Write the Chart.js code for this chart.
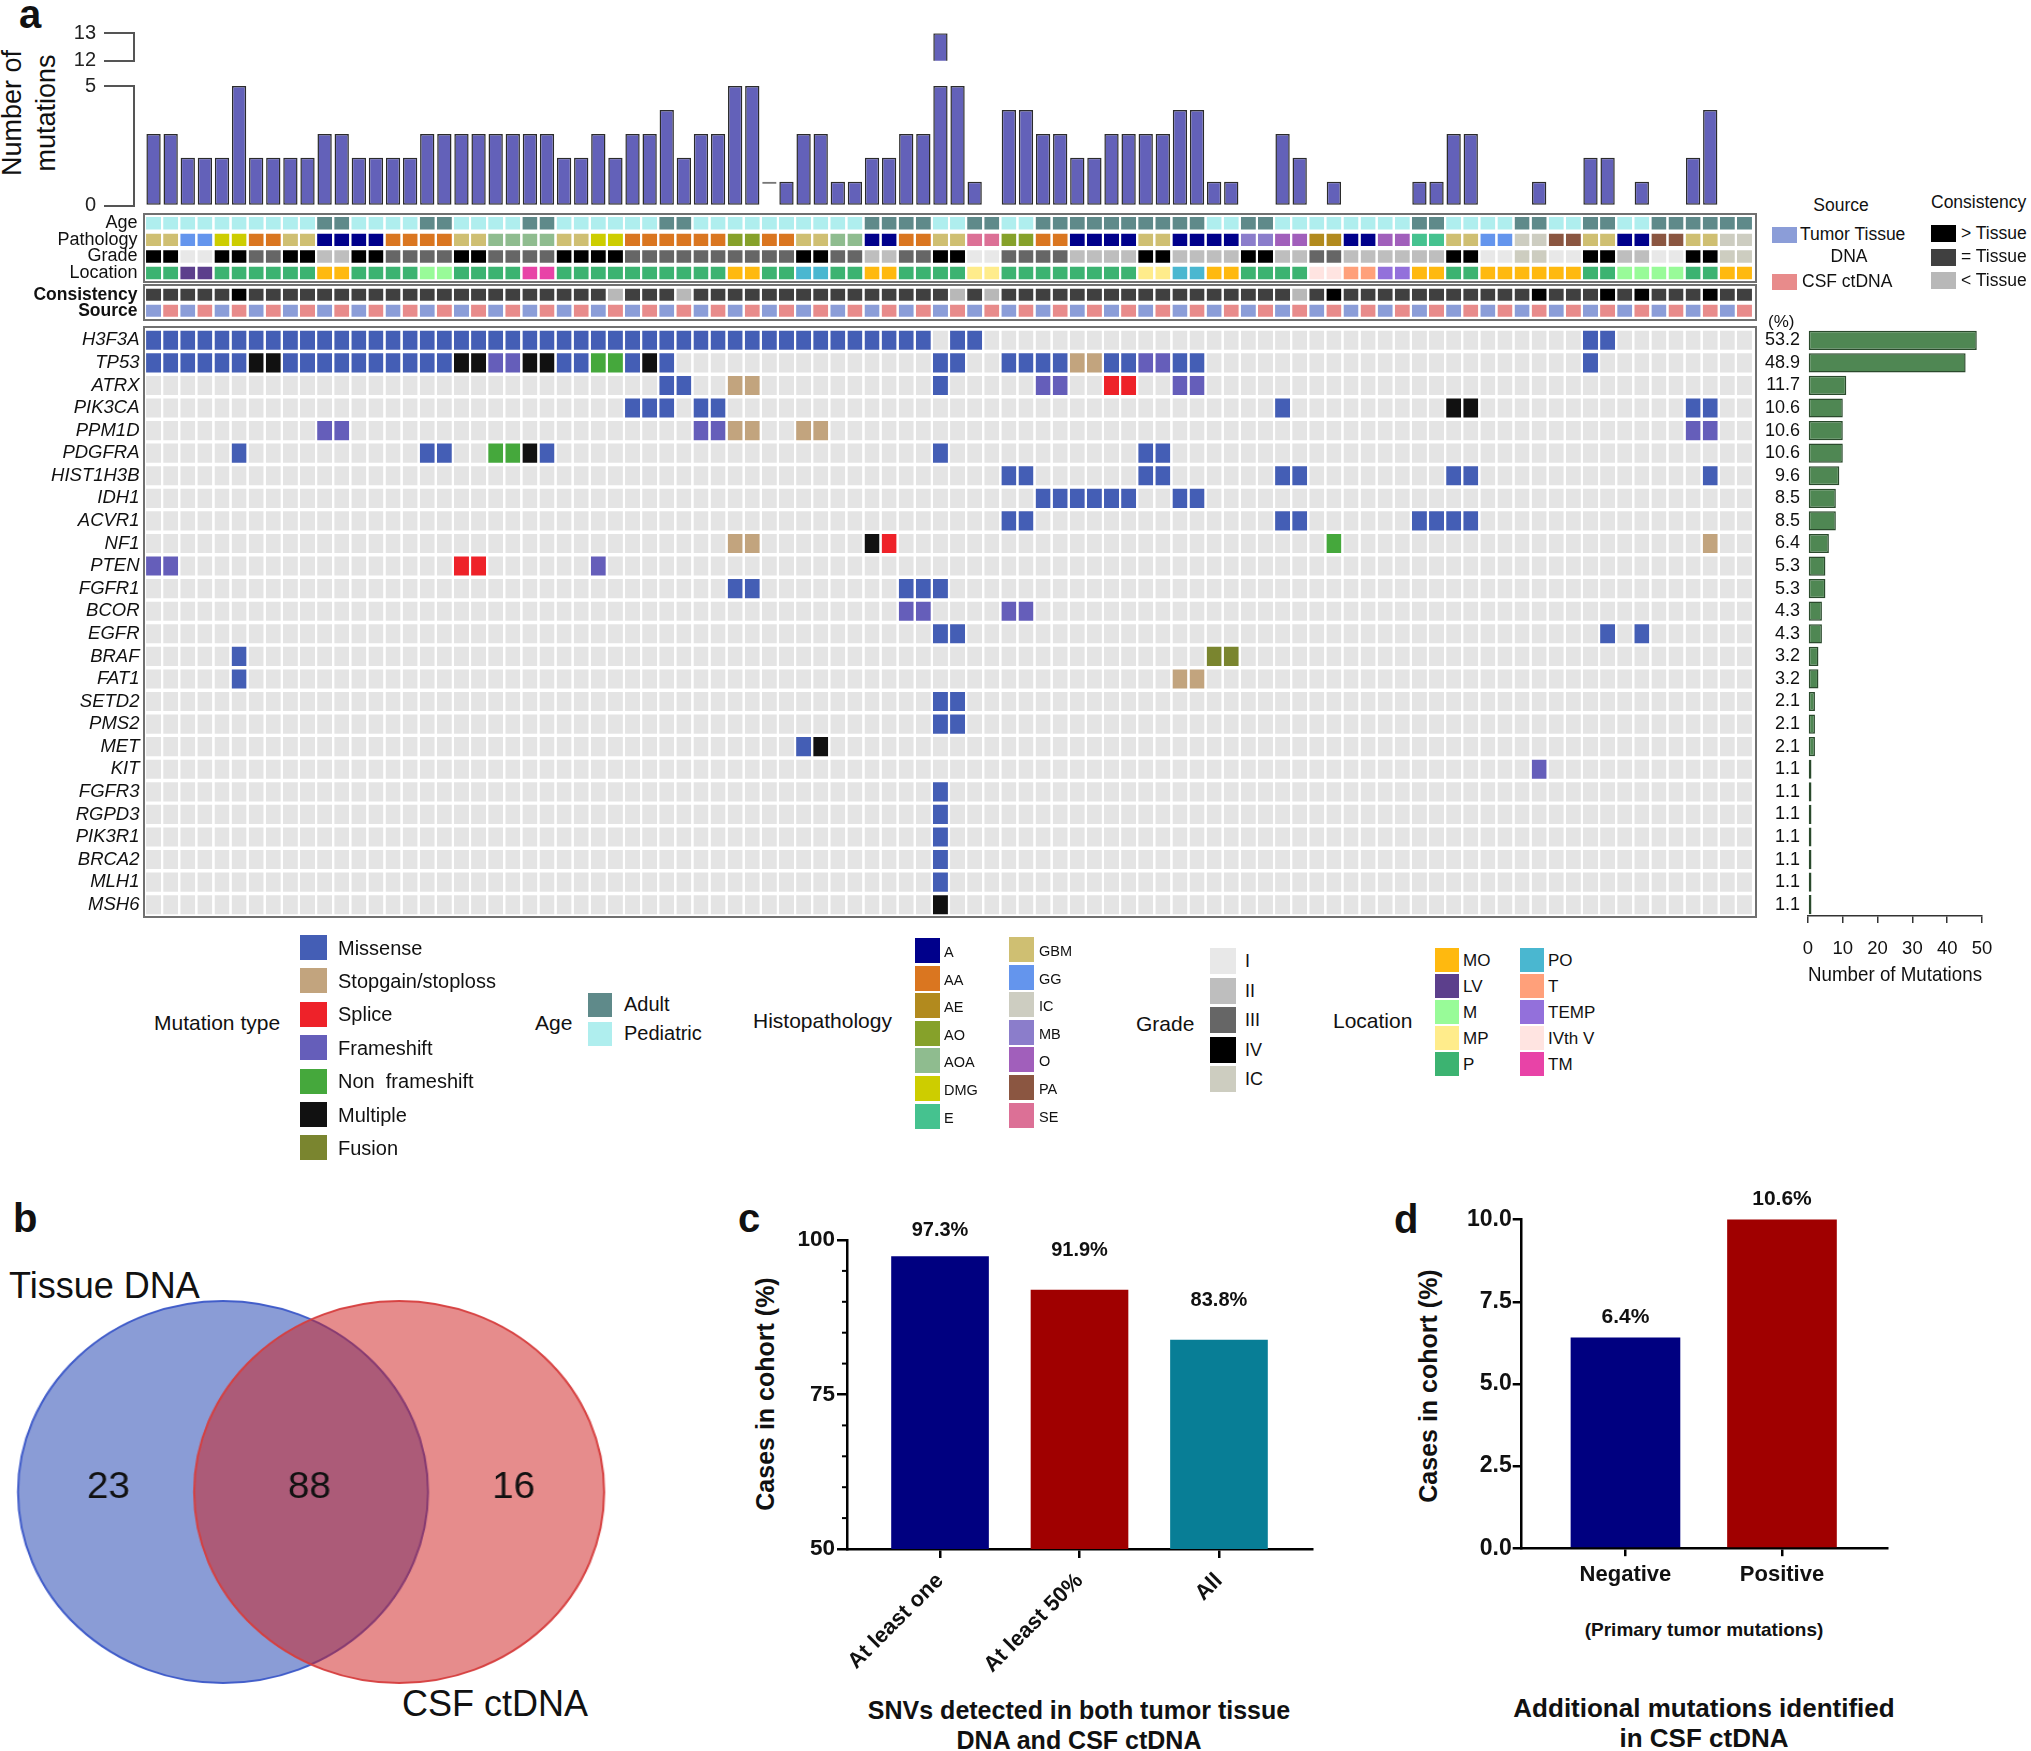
<!DOCTYPE html>
<html>
<head>
<meta charset="utf-8">
<title>Tissue DNA vs CSF ctDNA mutation landscape</title>
<script src="https://cdn.jsdelivr.net/npm/chart.js@4.4.1/dist/chart.umd.min.js"></script>
<style>
  html, body { margin:0; padding:0; background:#ffffff; }
  body { position:relative; width:2031px; height:1751px; overflow:hidden;
         font-family:'Liberation Sans', Arial, Helvetica, sans-serif; color:#111; }
  canvas { position:absolute; }
  .t { position:absolute; white-space:pre; line-height:1; }
  .sw { position:absolute; }
  .box { position:absolute; border:2px solid #707070; box-sizing:border-box; }
</style>
</head>
<body>
<script>
// ======================= DATA =======================
// Panel a: number of mutations per sample column (tissue / CSF pairs)
const mutationCounts = [
  3,3,2,2,2,5,2,2,2,2,
  3,3,2,2,2,2,3,3,3,3,
  3,3,3,3,2,2,3,2,3,3,
  4,2,3,3,5,5,1,1,3,3,
  1,1,2,2,3,3,13,5,1,0,
  4,4,3,3,2,2,3,3,3,3,
  4,4,1,1,0,0,3,2,0,1,
  0,0,0,0,1,1,3,3,0,0,
  0,1,0,0,2,2,0,1,0,0,
  2,4,0,0
];
const hollowColumns = [36];          // column drawn only as an outline top
const axisBreakLow = 5;              // lower panel max
const axisBreakHigh = [12, 13];      // upper panel range

const genes = ['H3F3A','TP53','ATRX','PIK3CA','PPM1D','PDGFRA','HIST1H3B','IDH1','ACVR1','NF1','PTEN',
  'FGFR1','BCOR','EGFR','BRAF','FAT1','SETD2','PMS2','MET','KIT','FGFR3','RGPD3','PIK3R1','BRCA2','MLH1','MSH6'];
const genePercent = ['53.2','48.9','11.7','10.6','10.6','10.6','9.6','8.5','8.5','6.4','5.3','5.3','4.3','4.3',
  '3.2','3.2','2.1','2.1','2.1','1.1','1.1','1.1','1.1','1.1','1.1','1.1'];
const geneMutationNumbers = [48.5,45.3,11,10,10,10,9,8,8,6,5,5,4,4,3,3,2,2,2,1,1,1,1,1,1,1];

// M missense, S stopgain/stoploss, P splice, F frameshift, N non frameshift, X multiple, U fusion, . none
const geneRows = [
  'MMMMMMMMMM MMMMMMMMMM MMMMMMMMMM MMMMMMMMMM MMMMMM.MM. .......... .......... .......... ....MM.... ....', // H3F3A
  'MMMMMMXXMM MMMMMMMMXX FFXXMMNNMX M......... ......MM.. MMMMSSMMFF MM........ .......... ....M..... ....', // TP53
  '.......... .......... .......... MM..SS.... ......M... ..FF..PP.. FF........ .......... .......... ....', // ATRX
  '.......... .......... ........MM M.MM...... .......... .......... ......M... ......XX.. .......... MM..', // PIK3CA
  '.......... FF........ .......... ..FFSS..SS .......... .......... .......... .......... .......... FF..', // PPM1D
  '.....M.... ......MM.. NNXM...... .......... ......M... ........MM .......... .......... .......... ....', // PDGFRA
  '.......... .......... .......... .......... .......... MM......MM ......MM.. ......MM.. .......... .M..', // HIST1H3B
  '.......... .......... .......... .......... .......... ..MMMMMM.. MM........ .......... .......... ....', // IDH1
  '.......... .......... .......... .......... .......... MM........ ......MM.. ....MMMM.. .......... ....', // ACVR1
  '.......... .......... .......... ....SS.... ..XP...... .......... .........N .......... .......... .S..', // NF1
  'FF........ ........PP ......F... .......... .......... .......... .......... .......... .......... ....', // PTEN
  '.......... .......... .......... ....MM.... ....MMM... .......... .......... .......... .......... ....', // FGFR1
  '.......... .......... .......... .......... ....FF.... FF........ .......... .......... .......... ....', // BCOR
  '.......... .......... .......... .......... ......MM.. .......... .......... .......... .....M.M.. ....', // EGFR
  '.....M.... .......... .......... .......... .......... .......... ..UU...... .......... .......... ....', // BRAF
  '.....M.... .......... .......... .......... .......... .......... SS........ .......... .......... ....', // FAT1
  '.......... .......... .......... .......... ......MM.. .......... .......... .......... .......... ....', // SETD2
  '.......... .......... .......... .......... ......MM.. .......... .......... .......... .......... ....', // PMS2
  '.......... .......... .......... ........MX .......... .......... .......... .......... .......... ....', // MET
  '.......... .......... .......... .......... .......... .......... .......... .......... .F........ ....', // KIT
  '.......... .......... .......... .......... ......M... .......... .......... .......... .......... ....', // FGFR3
  '.......... .......... .......... .......... ......M... .......... .......... .......... .......... ....', // RGPD3
  '.......... .......... .......... .......... ......M... .......... .......... .......... .......... ....', // PIK3R1
  '.......... .......... .......... .......... ......M... .......... .......... .......... .......... ....', // BRCA2
  '.......... .......... .......... .......... ......M... .......... .......... .......... .......... ....', // MLH1
  '.......... .......... .......... .......... ......X... .......... .......... .......... .......... ....'  // MSH6
];

// Annotation tracks (A adult, P pediatric)
const ageTrack = 'PPPPPPPPPP AAPPPPAAPP PPAAPPPPPP AAPPPPPPPP PPAAAAPPAA PPAAAAAAAA AAPPAAPPPP PPPPAAPPPP AAPPAAPPAA AAAA';
const pathologyTrack = [
  'GBM','GBM','GG','GG','DMG','DMG','AA','AA','GBM','GBM',
  'A','A','A','A','AA','AA','AA','AA','GBM','GBM',
  'AOA','AOA','AOA','AOA','GBM','GBM','DMG','DMG','AA','AA',
  'AA','AA','AA','AA','AO','AO','AA','AA','GBM','GBM',
  'AOA','AOA','A','A','AA','AA','GBM','GBM','SE','SE',
  'AO','AO','AA','AA','A','A','A','A','GBM','GBM',
  'A','A','A','A','MB','MB','O','O','AE','AE',
  'A','A','O','O','E','E','GBM','GBM','GG','GG',
  'IC','IC','PA','PA','GBM','GBM','A','A','PA','PA',
  'GBM','GBM','IC','IC'
];
const gradeTrack = [
  'IV','IV','I','I','IV','IV','III','III','IV','IV',
  'II','II','IV','IV','III','III','III','III','IV','IV',
  'III','III','III','III','IV','IV','IV','IV','III','III',
  'III','III','III','III','III','III','III','III','IV','IV',
  'III','III','II','II','III','III','IV','IV','I','I',
  'III','III','III','III','II','II','II','II','IV','IV',
  'II','II','II','II','IV','IV','II','II','III','III',
  'II','II','II','II','II','II','IV','IV','I','I',
  'IC','IC','I','I','IV','IV','II','II','I','I',
  'IV','IV','IC','IC'
];
const locationTrack = [
  'P','P','LV','LV','P','P','P','P','P','P',
  'MO','MO','P','P','P','P','M','M','P','P',
  'P','P','TM','TM','P','P','P','P','P','P',
  'P','P','P','P','MO','MO','P','P','PO','PO',
  'P','P','MO','MO','P','P','P','P','MP','MP',
  'P','P','P','P','P','P','P','P','MP','MP',
  'PO','PO','MO','MO','P','P','P','P','IVth V','IVth V',
  'T','T','TEMP','TEMP','MO','MO','P','P','MO','MO',
  'MO','MO','MO','MO','P','P','M','M','M','M',
  'P','P','MO','MO'
];
// > CSF more than tissue, = equal, < fewer
const consistencyTrack = '=====>==== ========== =======<== =<======== =======<=< ========== =======<=> ========== =>===>=>== =>==';
// T tumor tissue DNA, C CSF ctDNA
const sourceTrack = 'TCTCTCTCTC TCTCTCTCTC TCTCTCTCTC TCTCTCTCTC TCTCTCTCTC TCTCTCTCTC TCTCTCTCTC TCTCTCTCTC TCTCTCTCTC TCTC';

// Panel b: Venn counts (tissue only, both, CSF only)
const vennSets = ['Tissue DNA', 'CSF ctDNA'];
const vennCounts = [23, 88, 16];

// Panel c
const cCategories = ['At least one', 'At least 50%', 'All'];
const cValues = [97.3, 91.9, 83.8];
const cTicks = [50, 75, 100];

// Panel d
const dCategories = ['Negative', 'Positive'];
const dValues = [6.4, 10.6];
const dTicks = [0, 2.5, 5, 7.5, 10];

// ======================= STYLES =======================
const mutTypeCodes = ['M','S','P','F','N','X','U'];
const mutTypeNames = ['Missense','Stopgain/stoploss','Splice','Frameshift','Non  frameshift','Multiple','Fusion'];
const mutColors = { M:'#445EB5', S:'#C2A47E', P:'#EE2229', F:'#655EBA', N:'#45A83C', X:'#111111', U:'#7A852F', '.':'#E4E4E4' };
const ageNames = { A:'Adult', P:'Pediatric' };
const ageColors = { A:'#5F8A8A', P:'#AFEEEE' };
const pathColors = { A:'#00008B', AA:'#DA7620', AE:'#B28A1E', AO:'#86A12A', AOA:'#8FBC8F', DMG:'#CDCD00', E:'#45C28F',
  GBM:'#CFBF72', GG:'#6495ED', IC:'#CDCDC1', MB:'#8B7DCB', O:'#A15FBB', PA:'#8B5641', SE:'#DC7096' };
const pathLegendCol1 = ['A','AA','AE','AO','AOA','DMG','E'];
const pathLegendCol2 = ['GBM','GG','IC','MB','O','PA','SE'];
const gradeColors = { I:'#E8E8E8', II:'#BEBEBE', III:'#666666', IV:'#000000', IC:'#CDCDC0' };
const gradeLegend = ['I','II','III','IV','IC'];
const locColors = { MO:'#FFB90F', LV:'#5C3F8C', M:'#98FB98', MP:'#FFEC8B', P:'#3CB371', PO:'#4AB7D0', T:'#FFA07A',
  TEMP:'#9370DB', 'IVth V':'#FFE4E1', TM:'#E843A7' };
const locLegendCol1 = ['MO','LV','M','MP','P'];
const locLegendCol2 = ['PO','T','TEMP','IVth V','TM'];
const consColors = { '>':'#000000', '=':'#404040', '<':'#B8B8B8' };
const consLegend = [['>','> Tissue'], ['=','= Tissue'], ['<','< Tissue']];
const srcColors = { T:'#8B9DD8', C:'#E88B8B' };

const FONT = "'Liberation Sans', Arial, Helvetica, sans-serif";
Chart.defaults.font.family = FONT;
Chart.defaults.color = '#111';
Chart.defaults.animation = false;
Chart.defaults.responsive = false;
Chart.defaults.plugins.legend.display = false;
Chart.defaults.plugins.tooltip.enabled = false;

// ======================= HELPERS =======================
const chars = s => s.replace(/ /g, '').split('');
function canvasAt(left, top, w, h) {
  const c = document.createElement('canvas');
  c.width = w; c.height = h;
  c.style.left = left + 'px'; c.style.top = top + 'px';
  c.style.width = w + 'px'; c.style.height = h + 'px';
  document.body.appendChild(c);
  return c;
}
function addText(text, x, y, o = {}) {
  const d = document.createElement('div');
  d.className = 't';
  d.textContent = text;
  d.style.fontSize = (o.size || 18) + 'px';
  if (o.bold) d.style.fontWeight = 'bold';
  if (o.italic) d.style.fontStyle = 'italic';
  if (o.lineHeight) d.style.lineHeight = o.lineHeight + 'px';
  if (o.textAlign) d.style.textAlign = o.textAlign;
  d.style.left = x + 'px'; d.style.top = y + 'px';
  const tx = o.align === 'right' ? '-100%' : (o.align === 'center' ? '-50%' : '0');
  let tr = `translate(${tx}, -50%)`;
  if (o.rotate) tr += ` rotate(${o.rotate}deg)`;
  d.style.transform = tr;
  document.body.appendChild(d);
  return d;
}
function swatch(x, y, w, h, color) {
  const d = document.createElement('div');
  d.className = 'sw';
  Object.assign(d.style, { left:x+'px', top:y+'px', width:w+'px', height:h+'px', background:color });
  document.body.appendChild(d);
}
function box(x, y, w, h) {
  const d = document.createElement('div');
  d.className = 'box';
  Object.assign(d.style, { left:x+'px', top:y+'px', width:w+'px', height:h+'px' });
  document.body.appendChild(d);
}

const columnIds = mutationCounts.map((_, i) => 'S' + (i + 1));

function tileChart(canvas, rowLabels, rowColors, cfg) {
  const datasets = rowColors.map((colors, r) => ({
    label: rowLabels[r],
    data: colors.map(() => 1),
    backgroundColor: colors,
    borderColor: '#ffffff',
    borderWidth: { top: cfg.gap, bottom: cfg.gap, left: 0, right: 0 },
    borderSkipped: false,
    inflateAmount: 0,
    barPercentage: cfg.barPct,
    categoryPercentage: 1,
    stack: 'tiles'
  }));
  return new Chart(canvas, {
    type: 'bar',
    data: { labels: columnIds, datasets },
    options: {
      layout: { padding: cfg.padding },
      scales: {
        x: { display: false, stacked: true },
        y: {
          stacked: true, reverse: true, min: 0, max: rowLabels.length,
          afterFit: s => { s.width = cfg.axisWidth; },
          afterBuildTicks: s => { s.ticks = rowLabels.map((_, i) => ({ value: i + 0.5 })); },
          ticks: { autoSkip: false, padding: cfg.tickPad, font: cfg.font, color: '#111',
                   callback: (v, i) => rowLabels[i] },
          grid: { display: false, drawTicks: false },
          border: { display: false }
        }
      }
    }
  });
}

// ======================= PANEL a =======================
addText('a', 19, 14, { size: 40, bold: true });
addText('Number of\nmutations', 29, 113, { size: 27, align: 'center', rotate: -90, lineHeight: 34, textAlign: 'center' });

const colX0 = -1.143, colX1 = 93.5;
const isHollow = ctx => hollowColumns.includes(ctx.dataIndex);
const topBarStyle = {
  backgroundColor: ctx => isHollow(ctx) ? 'rgba(0,0,0,0)' : '#6361B9',
  borderColor: ctx => isHollow(ctx) ? '#777777' : '#2B2B2B',
  borderWidth: ctx => isHollow(ctx) ? { top: 2, left: 0, right: 0, bottom: 0 } : 1.5,
  borderSkipped: false,
  inflateAmount: 0,
  barThickness: 14.3
};
function topAxis(min, max, ticks, width) {
  return {
    min, max,
    afterFit: s => { s.width = width; },
    afterBuildTicks: s => { s.ticks = ticks.map(v => ({ value: v })); },
    ticks: { padding: 8, font: { size: 20 }, color: '#222' },
    grid: { drawOnChartArea: false, tickLength: 30, color: '#555', lineWidth: 2 },
    border: { color: '#555', width: 2 }
  };
}
// lower part 0..5
new Chart(canvasAt(0, 50, 1760, 185), {
  type: 'bar',
  data: { datasets: [Object.assign({
    data: mutationCounts.map((v, i) => ({ x: i, y: Math.min(v, axisBreakLow) }))
  }, topBarStyle)] },
  options: {
    layout: { padding: { top: 36, bottom: 29.3, left: 0, right: 7 } },
    scales: {
      x: { type: 'linear', display: false, min: colX0, max: colX1, offset: false },
      y: topAxis(0, axisBreakLow, [0, axisBreakLow], 134)
    }
  }
});
// upper part 12..13 (broken axis)
new Chart(canvasAt(0, 0, 1760, 90), {
  type: 'bar',
  data: { datasets: [Object.assign({
    data: mutationCounts.map((v, i) => ({ x: i, y: v > axisBreakLow ? v : null }))
  }, topBarStyle)] },
  options: {
    layout: { padding: { top: 33.3, bottom: 29.3, left: 0, right: 7 } },
    scales: {
      x: { type: 'linear', display: false, min: colX0, max: colX1, offset: false },
      y: topAxis(axisBreakHigh[0], axisBreakHigh[1], axisBreakHigh, 134)
    }
  }
});

// annotation tracks
box(143, 213, 1614, 70);
tileChart(canvasAt(0, 190, 1760, 120), ['Age', 'Pathology', 'Grade', 'Location'], [
  chars(ageTrack).map(c => ageColors[c]),
  pathologyTrack.map(c => pathColors[c]),
  gradeTrack.map(c => gradeColors[c]),
  locationTrack.map(c => locColors[c])
], { gap: 2.05, barPct: 0.88, axisWidth: 145, tickPad: 7.5, font: { size: 18 },
     padding: { top: 25, bottom: 28.7, left: 0, right: 7 } });

box(143, 284, 1614, 37);
tileChart(canvasAt(0, 262, 1760, 82), ['Consistency', 'Source'], [
  chars(consistencyTrack).map(c => consColors[c]),
  chars(sourceTrack).map(c => srcColors[c])
], { gap: 2.05, barPct: 0.88, axisWidth: 145, tickPad: 7.5, font: { size: 17.5, weight: 'bold' },
     padding: { top: 24.6, bottom: 25.1, left: 0, right: 7 } });

// gene grid
box(143, 326, 1614, 592);
tileChart(canvasAt(0, 300, 1760, 640), genes,
  geneRows.map(r => chars(r).map(c => mutColors[c])),
  { gap: 1.74, barPct: 0.877, axisWidth: 145, tickPad: 5.5, font: { size: 18.5, style: 'italic' },
    padding: { top: 29, bottom: 24, left: 0, right: 7 } });

// right bar chart: number of mutations per gene
addText('(%)', 1768, 321, { size: 17 });
new Chart(canvasAt(1760, 300, 260, 700), {
  type: 'bar',
  data: { labels: genes, datasets: [{
    data: geneMutationNumbers, backgroundColor: '#4F8753', borderColor: '#2A4A2C', borderWidth: 1.5,
    borderSkipped: false, inflateAmount: 0, barPercentage: 0.85, categoryPercentage: 1
  }] },
  options: {
    indexAxis: 'y',
    layout: { padding: { top: 29, bottom: 0, left: 0, right: 38 } },
    scales: {
      y: { afterFit: s => { s.width = 48; },
           ticks: { autoSkip: false, padding: 8, font: { size: 18 }, color: '#111', callback: (v, i) => genePercent[i] },
           grid: { display: false, drawTicks: false }, border: { display: false } },
      x: { min: 0, max: 50, afterFit: s => { s.height = 84; },
           ticks: { stepSize: 10, padding: 15, font: { size: 18.5 }, color: '#111' },
           grid: { drawOnChartArea: false, tickLength: 7, color: '#333', lineWidth: 1.5 },
           border: { color: '#333', width: 1.5 },
           title: { display: true, text: 'Number of Mutations', font: { size: 21 }, color: '#111', padding: { top: 0, bottom: 12.4 } } }
    }
  }
});

// Source / Consistency legends (top right)
addText('Source', 1841, 206, { size: 17.5, align: 'center' });
swatch(1772, 227, 25, 16, srcColors.T);
addText('Tumor Tissue', 1800, 235, { size: 17.5 });
addText('DNA', 1849, 256.5, { size: 17.5, align: 'center' });
swatch(1772, 274, 25, 16, srcColors.C);
addText('CSF ctDNA', 1802, 282, { size: 17.5 });
addText('Consistency', 1931, 203, { size: 17.5 });
consLegend.forEach(([code, name], k) => {
  const top = 225 + 23.5 * k;
  swatch(1931, top, 25, 17, consColors[code]);
  addText(name, 1961, top + 8.5, { size: 17.5 });
});

// bottom legends
addText('Mutation type', 154, 1022, { size: 21 });
mutTypeCodes.forEach((code, k) => {
  const top = 935 + 33.4 * k;
  swatch(300, top, 27, 25, mutColors[code]);
  addText(mutTypeNames[k], 338, top + 12.5, { size: 20 });
});
addText('Age', 535, 1022, { size: 21 });
['A', 'P'].forEach((code, k) => {
  const top = 993 + 29 * k;
  swatch(588, top, 24, 24, ageColors[code]);
  addText(ageNames[code], 624, top + 11, { size: 20 });
});
addText('Histopathology', 753, 1020, { size: 21 });
[[pathLegendCol1, 915, 944, 938], [pathLegendCol2, 1009, 1039, 937]].forEach(([names, sx, lx, y0]) => {
  names.forEach((n, k) => {
    const top = y0 + 27.6 * k;
    swatch(sx, top, 25, 25, pathColors[n]);
    addText(n, lx, top + 14, { size: 14.5 });
  });
});
addText('Grade', 1136, 1023, { size: 21 });
gradeLegend.forEach((n, k) => {
  const top = 948 + 29.5 * k;
  swatch(1210, top, 26, 26, gradeColors[n]);
  addText(n, 1245, top + 13, { size: 18 });
});
addText('Location', 1333, 1020, { size: 21 });
[[locLegendCol1, 1435, 1463], [locLegendCol2, 1520, 1548]].forEach(([names, sx, lx]) => {
  names.forEach((n, k) => {
    const top = 948 + 26 * k;
    swatch(sx, top, 24, 24, locColors[n]);
    addText(n, lx, top + 12, { size: 17 });
  });
});

// ======================= PANEL b (Venn) =======================
addText('b', 13, 1218, { size: 40, bold: true });
addText(vennSets[0], 9, 1285.5, { size: 36 });
addText(vennSets[1], 402, 1703.5, { size: 36 });
const vennRegionX = [-0.65, 0.49, 1.65];
const vennLabelPlugin = {
  id: 'vennLabels',
  afterDatasetsDraw(chart) {
    const { ctx, scales: { x, y } } = chart;
    ctx.save();
    ctx.font = `36px ${FONT}`;
    ctx.fillStyle = '#111'; ctx.textAlign = 'center'; ctx.textBaseline = 'middle';
    vennCounts.forEach((n, i) => ctx.fillText(String(n), x.getPixelForValue(vennRegionX[i]), y.getPixelForValue(0) - 4));
    ctx.restore();
  }
};
const vennCanvas = canvasAt(0, 1282, 578, 420);
vennCanvas.style.transformOrigin = '0 0';
vennCanvas.style.transform = 'scaleX(1.0733)';
new Chart(vennCanvas, {
  type: 'bubble',
  data: { datasets: [
    { label: vennSets[0], data: [{ x: 0, y: 0 }], radius: 191, backgroundColor: 'rgba(60,90,187,0.6)',
      borderColor: 'rgba(60,88,200,0.95)', borderWidth: 2, clip: false, order: 2 },
    { label: vennSets[1], data: [{ x: 1, y: 0 }], radius: 191, backgroundColor: 'rgba(205,25,25,0.5)',
      borderColor: 'rgba(214,62,62,0.95)', borderWidth: 2, clip: false, order: 1 }
  ] },
  options: {
    layout: { padding: 0, autoPadding: false },
    scales: { x: { display: false, min: -1.266, max: 2.256 }, y: { display: false, min: -1, max: 1 } }
  },
  plugins: [vennLabelPlugin]
});

// ======================= PANELS c & d =======================
const valueLabelPlugin = {
  id: 'valueLabels',
  afterDatasetsDraw(chart, args, opts) {
    const meta = chart.getDatasetMeta(0);
    const { ctx, chartArea } = chart;
    ctx.save();
    ctx.font = `bold ${opts.size}px ${FONT}`;
    ctx.fillStyle = '#111'; ctx.textAlign = 'center'; ctx.textBaseline = 'middle';
    meta.data.forEach((bar, i) => {
      const top = Math.max(bar.y, chartArea.top);
      const y = Math.max(top - opts.offset, chartArea.top - opts.maxAbove);
      ctx.fillText(opts.values[i].toFixed(1) + '%', bar.x, y);
    });
    ctx.restore();
  }
};
const minorTickPlugin = {
  id: 'minorTicks',
  afterDraw(chart, args, opts) {
    if (!opts || !opts.step) return;
    const { ctx, chartArea, scales: { y } } = chart;
    ctx.save(); ctx.strokeStyle = '#000'; ctx.lineWidth = 2;
    for (let v = y.min + opts.step; v < y.max; v += opts.step) {
      if (opts.skip.includes(v)) continue;
      const py = y.getPixelForValue(v);
      ctx.beginPath(); ctx.moveTo(chartArea.left - opts.length, py); ctx.lineTo(chartArea.left, py); ctx.stroke();
    }
    ctx.restore();
  }
};
function axisStyle(tickLength) {
  return { grid: { drawOnChartArea: false, offset: false, tickLength, color: '#000', lineWidth: 2.5 },
           border: { color: '#000', width: 2.5 } };
}

// panel c
addText('c', 738, 1218, { size: 40, bold: true });
addText('Cases in cohort (%)', 765, 1394, { size: 25, bold: true, align: 'center', rotate: -90 });
addText('SNVs detected in both tumor tissue', 1079, 1710, { size: 25, bold: true, align: 'center' });
addText('DNA and CSF ctDNA', 1079, 1740, { size: 25, bold: true, align: 'center' });
new Chart(canvasAt(700, 1190, 640, 530), {
  type: 'bar',
  data: { datasets: [{
    data: cValues.map((v, i) => ({ x: i, y: v })),
    backgroundColor: ['#000080', '#A00000', '#087E96'], borderWidth: 0, barThickness: 97
  }] },
  options: {
    layout: { padding: { left: 0, right: 28, top: 50, bottom: 0 } },
    plugins: { valueLabels: { values: cValues, size: 20, offset: 39.5, maxAbove: 10 },
               minorTicks: { step: 5, length: 5, skip: [75] } },
    scales: {
      x: Object.assign({ type: 'linear', min: -0.667, max: 2.667, offset: false,
        afterBuildTicks: s => { s.ticks = cCategories.map((_, i) => ({ value: i })); },
        afterFit: s => { s.height = 171; },
        ticks: { autoSkip: false, minRotation: 45, maxRotation: 45, padding: 10, color: '#111',
                 font: { size: 22, weight: 'bold' }, callback: v => cCategories[v] } }, axisStyle(9)),
      y: Object.assign({ min: 50, max: 100,
        afterBuildTicks: s => { s.ticks = cTicks.map(v => ({ value: v })); },
        afterFit: s => { s.width = 147; },
        ticks: { padding: 2, color: '#111', font: { size: 22.5, weight: 'bold' } } }, axisStyle(10))
    }
  },
  plugins: [valueLabelPlugin, minorTickPlugin]
});

// panel d
addText('d', 1394, 1219, { size: 40, bold: true });
addText('Cases in cohort (%)', 1428, 1386, { size: 25, bold: true, align: 'center', rotate: -90 });
addText('(Primary tumor mutations)', 1704, 1629, { size: 19, bold: true, align: 'center' });
addText('Additional mutations identified', 1704, 1708, { size: 26, bold: true, align: 'center' });
addText('in CSF ctDNA', 1704, 1738, { size: 26, bold: true, align: 'center' });
new Chart(canvasAt(1360, 1170, 560, 450), {
  type: 'bar',
  data: { datasets: [{
    data: dValues.map((v, i) => ({ x: i, y: v })),
    backgroundColor: ['#000080', '#A00000'], borderWidth: 0, barThickness: 109, clip: 0
  }] },
  options: {
    layout: { padding: { left: 0, right: 33, top: 49.6, bottom: 0 } },
    plugins: { valueLabels: { values: dValues, size: 21, offset: 21, maxAbove: 20 } },
    scales: {
      x: Object.assign({ type: 'linear', min: -0.663, max: 1.671, offset: false,
        afterBuildTicks: s => { s.ticks = dCategories.map((_, i) => ({ value: i })); },
        afterFit: s => { s.height = 71.8; },
        ticks: { autoSkip: false, maxRotation: 0, padding: 6, color: '#111',
                 font: { size: 22, weight: 'bold' }, callback: v => dCategories[v] } }, axisStyle(8)),
      y: Object.assign({ min: 0, max: 10,
        afterBuildTicks: s => { s.ticks = dTicks.map(v => ({ value: v })); },
        afterFit: s => { s.width = 161.7; },
        ticks: { padding: 1, color: '#111', font: { size: 23, weight: 'bold' }, callback: v => v.toFixed(1) } }, axisStyle(9))
    }
  },
  plugins: [valueLabelPlugin]
});
</script>
</body>
</html>
